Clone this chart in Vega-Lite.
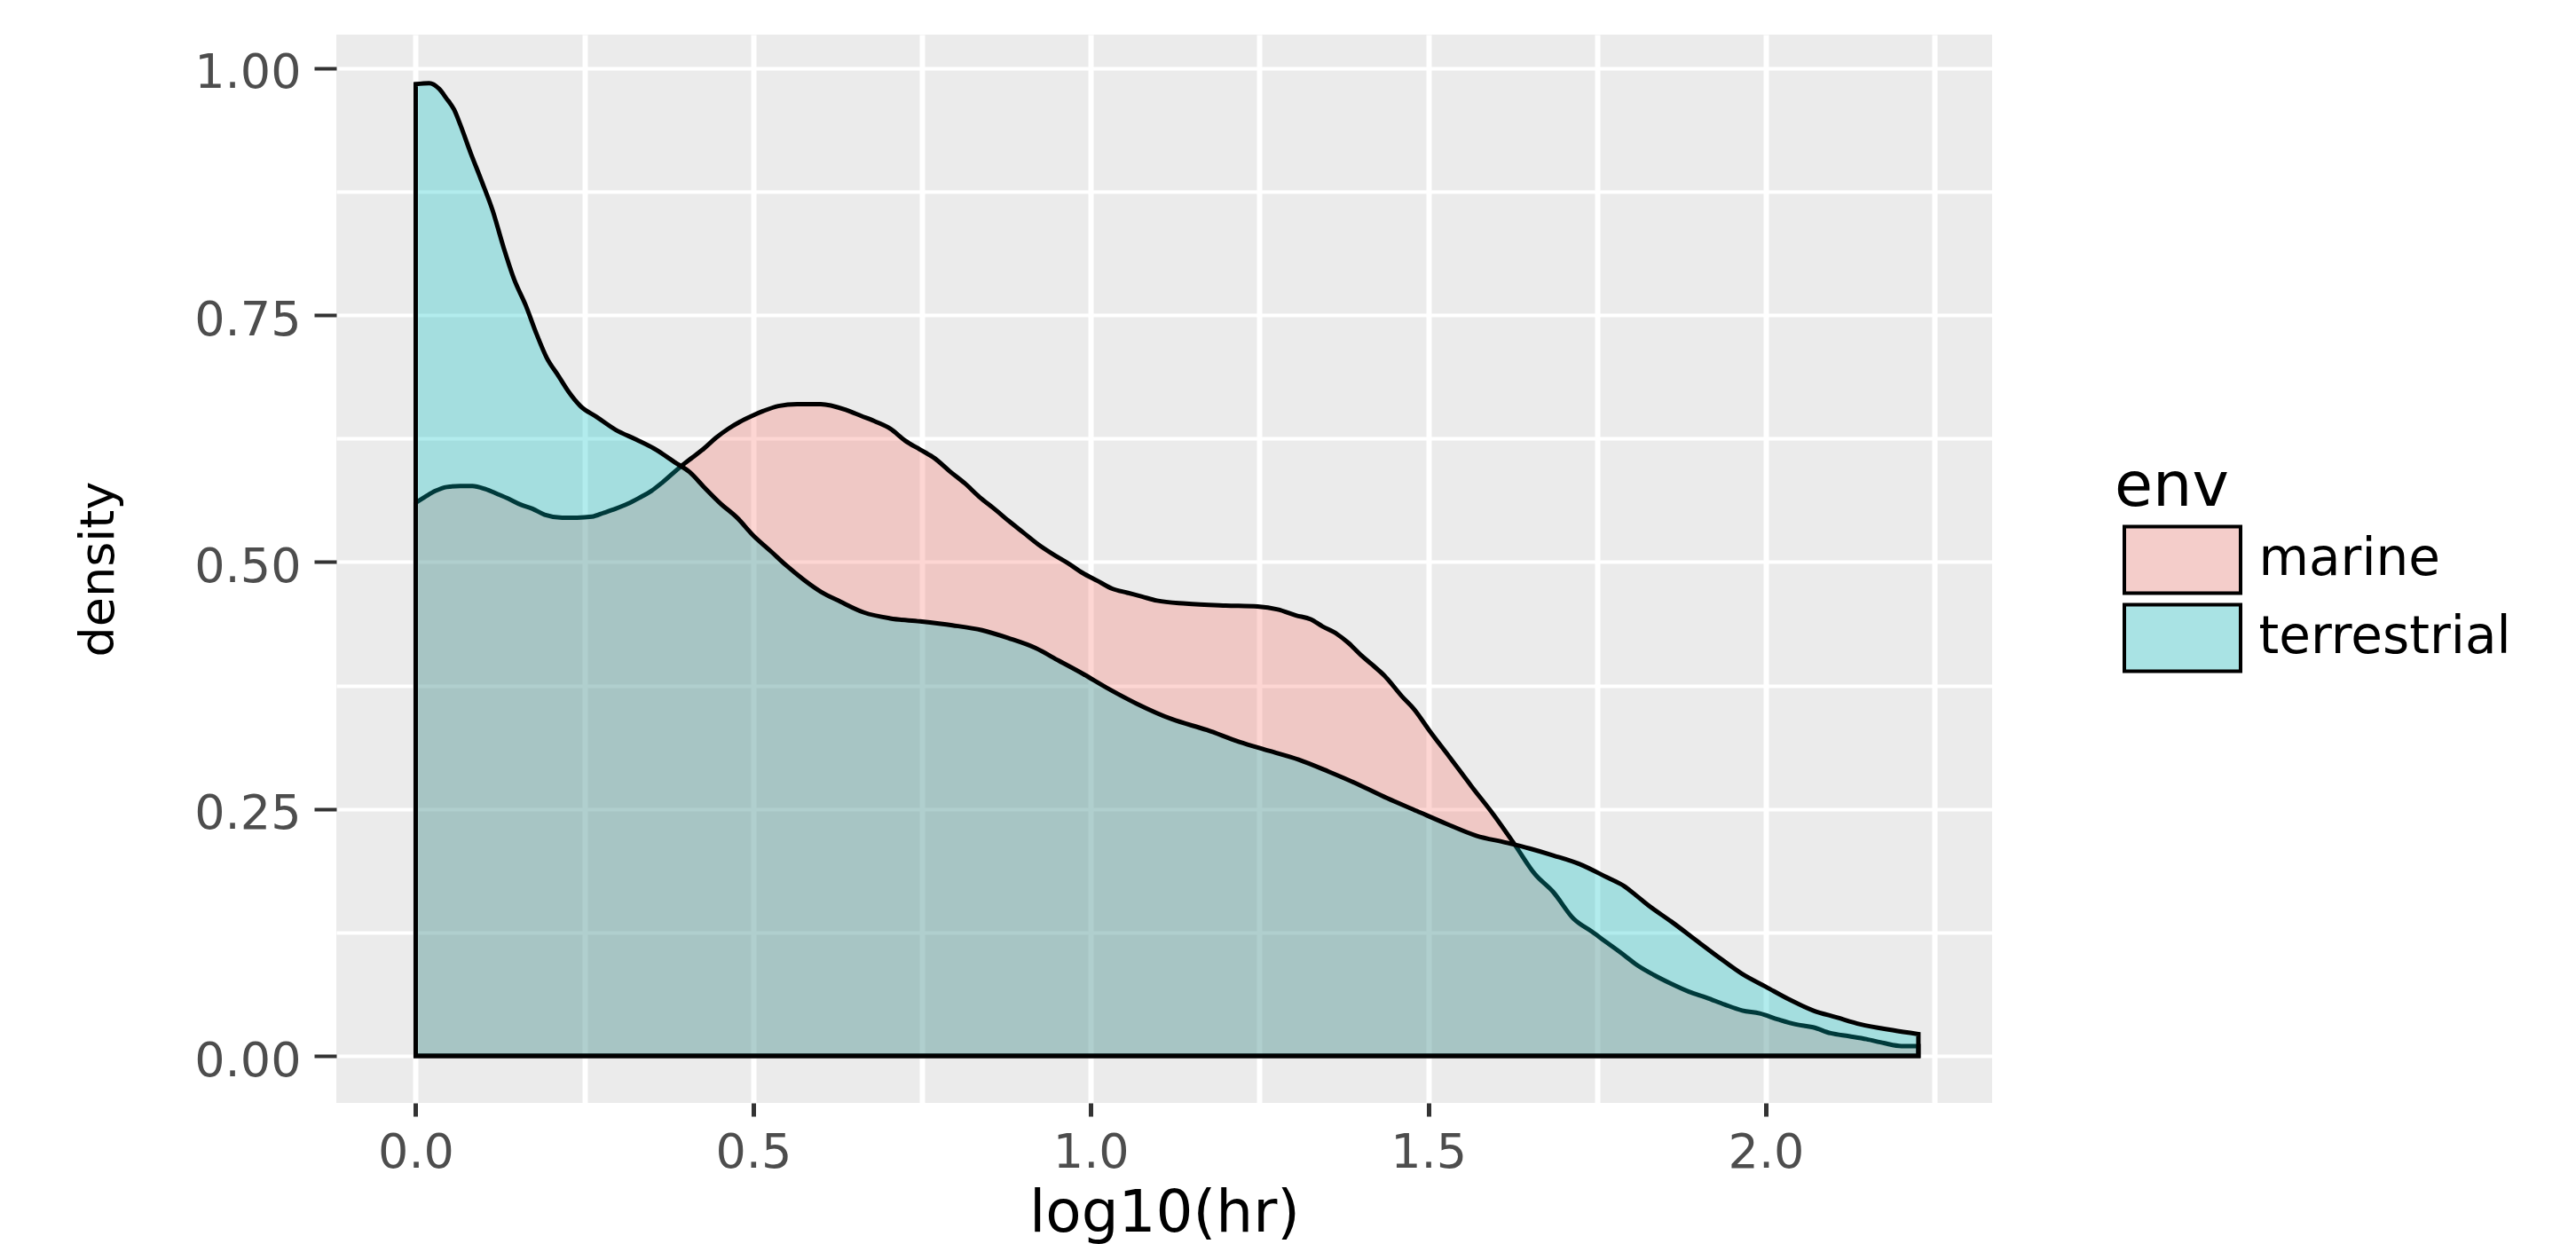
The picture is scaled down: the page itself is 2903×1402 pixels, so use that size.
{
  "$schema": "https://vega.github.io/schema/vega-lite/v6.json",
  "width": 1866,
  "height": 1204,
  "autosize": {"type": "none"},
  "padding": {"left": 379, "top": 39, "right": 658, "bottom": 159},
  "background": "white",
  "config": {
    "view": {"fill": "#EBEBEB", "stroke": null},
    "font": "DejaVu Sans",
    "axis": {
      "domain": false,
      "gridColor": "white",
      "tickColor": "#333333",
      "labelColor": "#4D4D4D",
      "labelFont": "DejaVu Sans",
      "titleFont": "DejaVu Sans",
      "titleColor": "black",
      "titleFontWeight": "normal",
      "labelFontSize": 54,
      "labelOverlap": false,
      "labelFlush": false,
      "labelBound": false
    }
  },
  "data": {
    "values": [
      {"env": "marine", "x": 0.0, "y": 0.560},
      {"env": "marine", "x": 0.016, "y": 0.567},
      {"env": "marine", "x": 0.029, "y": 0.572},
      {"env": "marine", "x": 0.046, "y": 0.576},
      {"env": "marine", "x": 0.066, "y": 0.577},
      {"env": "marine", "x": 0.084, "y": 0.577},
      {"env": "marine", "x": 0.103, "y": 0.574},
      {"env": "marine", "x": 0.121, "y": 0.569},
      {"env": "marine", "x": 0.138, "y": 0.564},
      {"env": "marine", "x": 0.156, "y": 0.558},
      {"env": "marine", "x": 0.173, "y": 0.554},
      {"env": "marine", "x": 0.191, "y": 0.548},
      {"env": "marine", "x": 0.217, "y": 0.545},
      {"env": "marine", "x": 0.239, "y": 0.545},
      {"env": "marine", "x": 0.261, "y": 0.546},
      {"env": "marine", "x": 0.279, "y": 0.550},
      {"env": "marine", "x": 0.296, "y": 0.554},
      {"env": "marine", "x": 0.314, "y": 0.559},
      {"env": "marine", "x": 0.331, "y": 0.565},
      {"env": "marine", "x": 0.349, "y": 0.572},
      {"env": "marine", "x": 0.366, "y": 0.581},
      {"env": "marine", "x": 0.393, "y": 0.597},
      {"env": "marine", "x": 0.410, "y": 0.606},
      {"env": "marine", "x": 0.427, "y": 0.615},
      {"env": "marine", "x": 0.445, "y": 0.626},
      {"env": "marine", "x": 0.463, "y": 0.635},
      {"env": "marine", "x": 0.480, "y": 0.642},
      {"env": "marine", "x": 0.498, "y": 0.648},
      {"env": "marine", "x": 0.515, "y": 0.653},
      {"env": "marine", "x": 0.537, "y": 0.658},
      {"env": "marine", "x": 0.565, "y": 0.660},
      {"env": "marine", "x": 0.600, "y": 0.660},
      {"env": "marine", "x": 0.638, "y": 0.654},
      {"env": "marine", "x": 0.660, "y": 0.648},
      {"env": "marine", "x": 0.682, "y": 0.642},
      {"env": "marine", "x": 0.703, "y": 0.635},
      {"env": "marine", "x": 0.725, "y": 0.623},
      {"env": "marine", "x": 0.747, "y": 0.614},
      {"env": "marine", "x": 0.769, "y": 0.605},
      {"env": "marine", "x": 0.791, "y": 0.592},
      {"env": "marine", "x": 0.813, "y": 0.580},
      {"env": "marine", "x": 0.835, "y": 0.566},
      {"env": "marine", "x": 0.857, "y": 0.554},
      {"env": "marine", "x": 0.878, "y": 0.542},
      {"env": "marine", "x": 0.900, "y": 0.530},
      {"env": "marine", "x": 0.922, "y": 0.518},
      {"env": "marine", "x": 0.944, "y": 0.508},
      {"env": "marine", "x": 0.966, "y": 0.499},
      {"env": "marine", "x": 0.988, "y": 0.489},
      {"env": "marine", "x": 1.010, "y": 0.481},
      {"env": "marine", "x": 1.032, "y": 0.473},
      {"env": "marine", "x": 1.054, "y": 0.469},
      {"env": "marine", "x": 1.076, "y": 0.465},
      {"env": "marine", "x": 1.098, "y": 0.461},
      {"env": "marine", "x": 1.141, "y": 0.458},
      {"env": "marine", "x": 1.200, "y": 0.456},
      {"env": "marine", "x": 1.247, "y": 0.455},
      {"env": "marine", "x": 1.277, "y": 0.452},
      {"env": "marine", "x": 1.304, "y": 0.446},
      {"env": "marine", "x": 1.326, "y": 0.442},
      {"env": "marine", "x": 1.343, "y": 0.435},
      {"env": "marine", "x": 1.365, "y": 0.427},
      {"env": "marine", "x": 1.382, "y": 0.418},
      {"env": "marine", "x": 1.400, "y": 0.406},
      {"env": "marine", "x": 1.417, "y": 0.396},
      {"env": "marine", "x": 1.435, "y": 0.385},
      {"env": "marine", "x": 1.461, "y": 0.364},
      {"env": "marine", "x": 1.479, "y": 0.351},
      {"env": "marine", "x": 1.501, "y": 0.330},
      {"env": "marine", "x": 1.531, "y": 0.303},
      {"env": "marine", "x": 1.564, "y": 0.273},
      {"env": "marine", "x": 1.597, "y": 0.244},
      {"env": "marine", "x": 1.628, "y": 0.214},
      {"env": "marine", "x": 1.658, "y": 0.184},
      {"env": "marine", "x": 1.685, "y": 0.166},
      {"env": "marine", "x": 1.715, "y": 0.139},
      {"env": "marine", "x": 1.742, "y": 0.126},
      {"env": "marine", "x": 1.764, "y": 0.115},
      {"env": "marine", "x": 1.790, "y": 0.102},
      {"env": "marine", "x": 1.807, "y": 0.093},
      {"env": "marine", "x": 1.834, "y": 0.082},
      {"env": "marine", "x": 1.860, "y": 0.073},
      {"env": "marine", "x": 1.886, "y": 0.065},
      {"env": "marine", "x": 1.912, "y": 0.059},
      {"env": "marine", "x": 1.939, "y": 0.052},
      {"env": "marine", "x": 1.965, "y": 0.046},
      {"env": "marine", "x": 1.991, "y": 0.043},
      {"env": "marine", "x": 2.018, "y": 0.037},
      {"env": "marine", "x": 2.044, "y": 0.032},
      {"env": "marine", "x": 2.070, "y": 0.029},
      {"env": "marine", "x": 2.096, "y": 0.023},
      {"env": "marine", "x": 2.123, "y": 0.020},
      {"env": "marine", "x": 2.149, "y": 0.017},
      {"env": "marine", "x": 2.175, "y": 0.013},
      {"env": "marine", "x": 2.201, "y": 0.010},
      {"env": "marine", "x": 2.226, "y": 0.010},
      {"env": "terrestrial", "x": 0.0, "y": 0.984},
      {"env": "terrestrial", "x": 0.02, "y": 0.985},
      {"env": "terrestrial", "x": 0.035, "y": 0.979},
      {"env": "terrestrial", "x": 0.045, "y": 0.970},
      {"env": "terrestrial", "x": 0.057, "y": 0.958},
      {"env": "terrestrial", "x": 0.066, "y": 0.943},
      {"env": "terrestrial", "x": 0.081, "y": 0.915},
      {"env": "terrestrial", "x": 0.097, "y": 0.887},
      {"env": "terrestrial", "x": 0.114, "y": 0.856},
      {"env": "terrestrial", "x": 0.130, "y": 0.819},
      {"env": "terrestrial", "x": 0.146, "y": 0.786},
      {"env": "terrestrial", "x": 0.163, "y": 0.760},
      {"env": "terrestrial", "x": 0.179, "y": 0.731},
      {"env": "terrestrial", "x": 0.194, "y": 0.707},
      {"env": "terrestrial", "x": 0.211, "y": 0.689},
      {"env": "terrestrial", "x": 0.227, "y": 0.672},
      {"env": "terrestrial", "x": 0.244, "y": 0.658},
      {"env": "terrestrial", "x": 0.268, "y": 0.647},
      {"env": "terrestrial", "x": 0.296, "y": 0.634},
      {"env": "terrestrial", "x": 0.327, "y": 0.624},
      {"env": "terrestrial", "x": 0.353, "y": 0.615},
      {"env": "terrestrial", "x": 0.384, "y": 0.601},
      {"env": "terrestrial", "x": 0.406, "y": 0.591},
      {"env": "terrestrial", "x": 0.427, "y": 0.576},
      {"env": "terrestrial", "x": 0.452, "y": 0.559},
      {"env": "terrestrial", "x": 0.476, "y": 0.545},
      {"env": "terrestrial", "x": 0.500, "y": 0.527},
      {"env": "terrestrial", "x": 0.526, "y": 0.511},
      {"env": "terrestrial", "x": 0.550, "y": 0.496},
      {"env": "terrestrial", "x": 0.575, "y": 0.482},
      {"env": "terrestrial", "x": 0.600, "y": 0.470},
      {"env": "terrestrial", "x": 0.629, "y": 0.460},
      {"env": "terrestrial", "x": 0.664, "y": 0.449},
      {"env": "terrestrial", "x": 0.703, "y": 0.443},
      {"env": "terrestrial", "x": 0.747, "y": 0.440},
      {"env": "terrestrial", "x": 0.795, "y": 0.436},
      {"env": "terrestrial", "x": 0.839, "y": 0.431},
      {"env": "terrestrial", "x": 0.878, "y": 0.423},
      {"env": "terrestrial", "x": 0.918, "y": 0.413},
      {"env": "terrestrial", "x": 0.953, "y": 0.400},
      {"env": "terrestrial", "x": 0.988, "y": 0.387},
      {"env": "terrestrial", "x": 1.023, "y": 0.373},
      {"env": "terrestrial", "x": 1.067, "y": 0.357},
      {"env": "terrestrial", "x": 1.120, "y": 0.341},
      {"env": "terrestrial", "x": 1.172, "y": 0.330},
      {"env": "terrestrial", "x": 1.220, "y": 0.318},
      {"env": "terrestrial", "x": 1.264, "y": 0.309},
      {"env": "terrestrial", "x": 1.308, "y": 0.300},
      {"env": "terrestrial", "x": 1.352, "y": 0.288},
      {"env": "terrestrial", "x": 1.396, "y": 0.275},
      {"env": "terrestrial", "x": 1.439, "y": 0.261},
      {"env": "terrestrial", "x": 1.483, "y": 0.248},
      {"env": "terrestrial", "x": 1.527, "y": 0.235},
      {"env": "terrestrial", "x": 1.571, "y": 0.223},
      {"env": "terrestrial", "x": 1.615, "y": 0.216},
      {"env": "terrestrial", "x": 1.650, "y": 0.210},
      {"env": "terrestrial", "x": 1.685, "y": 0.203},
      {"env": "terrestrial", "x": 1.725, "y": 0.194},
      {"env": "terrestrial", "x": 1.764, "y": 0.181},
      {"env": "terrestrial", "x": 1.790, "y": 0.172},
      {"env": "terrestrial", "x": 1.807, "y": 0.163},
      {"env": "terrestrial", "x": 1.825, "y": 0.153},
      {"env": "terrestrial", "x": 1.860, "y": 0.136},
      {"env": "terrestrial", "x": 1.895, "y": 0.118},
      {"env": "terrestrial", "x": 1.930, "y": 0.100},
      {"env": "terrestrial", "x": 1.965, "y": 0.083},
      {"env": "terrestrial", "x": 2.000, "y": 0.070},
      {"env": "terrestrial", "x": 2.035, "y": 0.057},
      {"env": "terrestrial", "x": 2.070, "y": 0.046},
      {"env": "terrestrial", "x": 2.105, "y": 0.039},
      {"env": "terrestrial", "x": 2.140, "y": 0.032},
      {"env": "terrestrial", "x": 2.188, "y": 0.026},
      {"env": "terrestrial", "x": 2.226, "y": 0.022}
    ]
  },
  "encoding": {
    "x": {
      "field": "x",
      "type": "quantitative",
      "scale": {"domain": [-0.1176, 2.3352], "nice": false, "zero": false},
      "axis": {
        "title": "log10(hr)",
        "titleFontSize": 66,
        "titlePadding": 9,
        "values": [0, 0.25, 0.5, 0.75, 1, 1.25, 1.5, 1.75, 2, 2.25],
        "labelExpr": "datum.value % 0.5 == 0 ? format(datum.value, '.1f') : ''",
        "tickSize": 15,
        "tickWidth": 5,
        "tickOpacity": {"condition": {"test": "datum.value % 0.5 != 0", "value": 0}, "value": 1},
        "gridWidth": 6,
        "labelPadding": 14
      }
    },
    "y": {
      "field": "y",
      "type": "quantitative",
      "stack": null,
      "scale": {"domain": [-0.0476, 1.0341], "nice": false, "zero": false},
      "axis": {
        "title": "density",
        "titleFontSize": 54,
        "titlePadding": 80,
        "values": [0, 0.125, 0.25, 0.375, 0.5, 0.625, 0.75, 0.875, 1],
        "labelExpr": "datum.value % 0.25 == 0 ? format(datum.value, '.2f') : ''",
        "tickSize": 25,
        "tickWidth": 4,
        "tickOpacity": {"condition": {"test": "datum.value % 0.25 != 0", "value": 0}, "value": 1},
        "gridWidth": 4,
        "labelPadding": 15,
        "labelOffset": 6
      }
    },
    "y2": {"datum": 0}
  },
  "layer": [
    {
      "mark": {
        "type": "area",
        "interpolate": "monotone",
        "fillOpacity": 0.3,
        "stroke": "black",
        "strokeWidth": 5,
        "strokeJoin": "miter"
      },
      "encoding": {
        "fill": {
          "field": "env",
          "type": "nominal",
          "scale": {"domain": ["marine", "terrestrial"], "range": ["#F8766D", "#00BFC4"]},
          "legend": null
        }
      }
    },
    {
      "mark": {
        "type": "area",
        "interpolate": "monotone",
        "opacity": 0
      },
      "encoding": {
        "fill": {
          "field": "env",
          "type": "nominal",
          "scale": {"domain": ["marine", "terrestrial"], "range": ["#F4CDCA", "#A9E3E4"]},
          "legend": {
            "orient": "none",
            "legendX": 2004,
            "legendY": 476,
            "title": "env",
            "titleFont": "DejaVu Sans",
            "titleFontSize": 70,
            "titleFontWeight": "normal",
            "titleColor": "black",
            "titlePadding": 4,
            "labelFont": "DejaVu Sans",
            "labelFontSize": 58,
            "labelColor": "black",
            "labelLimit": 0,
            "symbolType": "M-1.6375,-0.9375L1.6375,-0.9375L1.6375,0.9375L-1.6375,0.9375Z",
            "symbolSize": 6400,
            "symbolStrokeWidth": 4,
            "symbolStrokeColor": "black",
            "symbolOpacity": 1,
            "symbolOffset": 34.5,
            "labelOffset": 44,
            "rowPadding": -7.5,
            "padding": 0
          }
        }
      }
    }
  ],
  "resolve": {"scale": {"fill": "independent"}, "legend": {"fill": "independent"}}
}
